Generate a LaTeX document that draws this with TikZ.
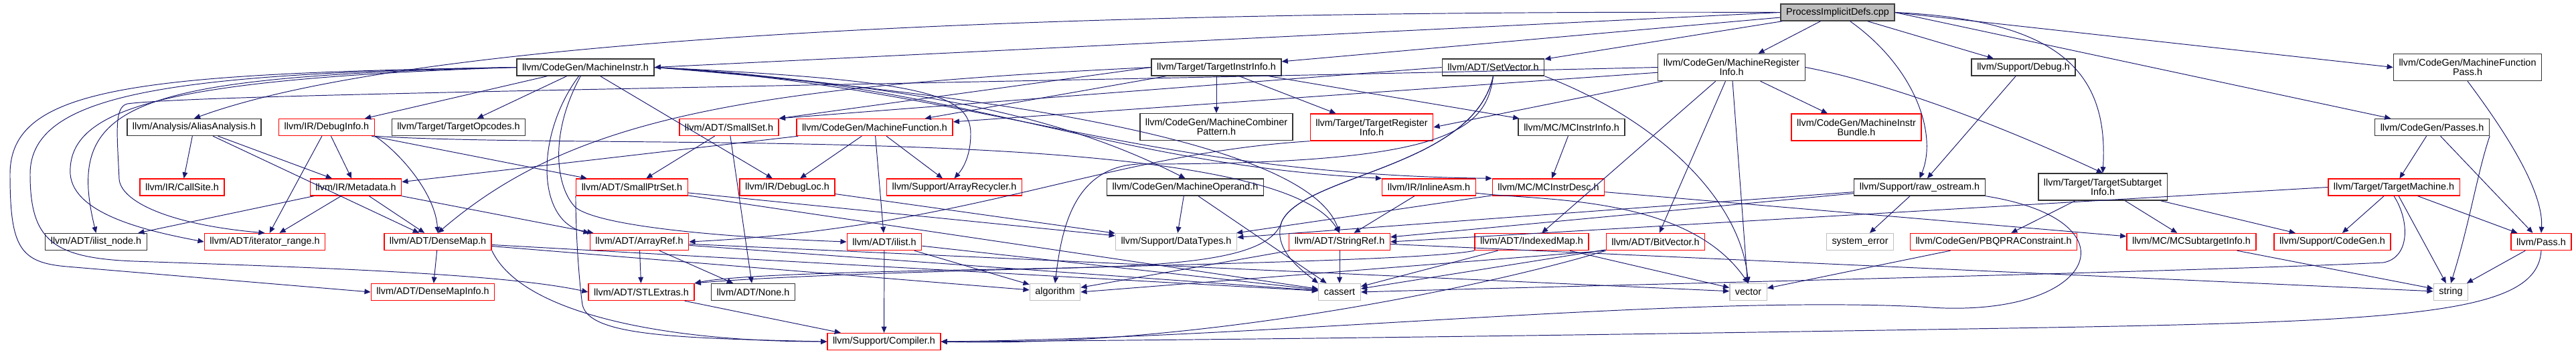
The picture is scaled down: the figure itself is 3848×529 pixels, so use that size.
\documentclass[tikz,border=0pt]{standalone}
\usepackage{fontspec}
\setmainfont{Liberation Sans}
\usepackage{tikz}
\usetikzlibrary{arrows.meta}
\definecolor{AzulFlecha}{RGB}{25,25,112}
\definecolor{RojoBorde}{RGB}{255,0,0}
\definecolor{GrisBorde}{RGB}{191,191,191}
\definecolor{GrisRelleno}{RGB}{191,191,191}

\begin{document}
\begin{tikzpicture}[x=0.02cm,y=-0.02cm,>={Triangle[length=5.2pt,width=4.4pt]},
  archivo/.style={draw=black!80,line width=0.8pt,fill=white,inner xsep=4.6pt,inner ysep=0pt,
    minimum height=0.5cm,align=center,font=\fontsize{8.2}{8}\selectfont},
  truncado/.style={archivo,draw=RojoBorde},
  sistema/.style={archivo,draw=GrisBorde},
  doble/.style={minimum height=0.8cm},
  dep/.style={->,AzulFlecha,line width=0.55pt}]
  \useasboundingbox (0,0) rectangle (3848,529);

  \node[archivo,fill=GrisRelleno,draw=black!75] (pid) at (2745,18.5) {ProcessImplicitDefs.cpp};

  \node[archivo] (mi) at (874.5,100.5) {llvm/CodeGen/MachineInstr.h};
  \node[archivo] (tii) at (1817,100.5) {llvm/Target/TargetInstrInfo.h};
  \node[archivo] (sv) at (2230.5,100.5) {llvm/ADT/SetVector.h};
  \node[archivo,doble] (mri) at (2586.5,100.5) {llvm/CodeGen/MachineRegister\\Info.h};
  \node[archivo] (dbg) at (3022.5,100.5) {llvm/Support/Debug.h};
  \node[archivo,doble] (mfp) at (3686,100.5) {llvm/CodeGen/MachineFunction\\Pass.h};

  \node[archivo] (aa) at (290,190) {llvm/Analysis/AliasAnalysis.h};
  \node[truncado] (dinfo) at (488,190) {llvm/IR/DebugInfo.h};
  \node[archivo] (topc) at (685,190) {llvm/Target/TargetOpcodes.h};
  \node[truncado] (sset) at (1089,190) {llvm/ADT/SmallSet.h};
  \node[truncado] (mf) at (1306.5,190) {llvm/CodeGen/MachineFunction.h};
  \node[archivo,doble] (mcp) at (1817,189.5) {llvm/CodeGen/MachineCombiner\\Pattern.h};
  \node[truncado,doble] (tri) at (2049,190) {llvm/Target/TargetRegister\\Info.h};
  \node[archivo] (mcii) at (2347.5,190) {llvm/MC/MCInstrInfo.h};
  \node[truncado,doble] (mib) at (2773,190) {llvm/CodeGen/MachineInstr\\Bundle.h};
  \node[archivo] (passes) at (3633,190) {llvm/CodeGen/Passes.h};

  \node[truncado] (cs) at (272,279.5) {llvm/IR/CallSite.h};
  \node[truncado] (md) at (531.5,279.5) {llvm/IR/Metadata.h};
  \node[truncado] (spset) at (944,279.5) {llvm/ADT/SmallPtrSet.h};
  \node[truncado] (dloc) at (1176,279.5) {llvm/IR/DebugLoc.h};
  \node[truncado] (arec) at (1425.5,279.5) {llvm/Support/ArrayRecycler.h};
  \node[archivo] (mop) at (1770.5,279.5) {llvm/CodeGen/MachineOperand.h};
  \node[truncado] (iasm) at (2134.5,279.5) {llvm/IR/InlineAsm.h};
  \node[truncado] (mcid) at (2313,279.5) {llvm/MC/MCInstrDesc.h};
  \node[archivo] (ro) at (2867.5,279.5) {llvm/Support/raw\_ostream.h};
  \node[archivo,doble] (tsi) at (3141,279) {llvm/Target/TargetSubtarget\\Info.h};
  \node[truncado] (tm) at (3576,279.5) {llvm/Target/TargetMachine.h};

  \node[archivo] (iln) at (143.5,361) {llvm/ADT/ilist\_node.h};
  \node[truncado] (itr) at (395.5,361) {llvm/ADT/iterator\_range.h};
  \node[truncado] (dm) at (654,361) {llvm/ADT/DenseMap.h};
  \node[truncado] (ar) at (955,361) {llvm/ADT/ArrayRef.h};
  \node[truncado] (ilst) at (1321,361) {llvm/ADT/ilist.h};
  \node[sistema] (dt) at (1757,361) {llvm/Support/DataTypes.h};
  \node[truncado] (sref) at (2001,361) {llvm/ADT/StringRef.h};
  \node[truncado] (imap) at (2288,361) {llvm/ADT/IndexedMap.h};
  \node[truncado] (bv) at (2473,361) {llvm/ADT/BitVector.h};
  \node[sistema] (serr) at (2778.5,361) {system\_error};
  \node[truncado] (pbqp) at (2978,361) {llvm/CodeGen/PBQPRAConstraint.h};
  \node[truncado] (mcsi) at (3273.5,361) {llvm/MC/MCSubtargetInfo.h};
  \node[truncado] (cgen) at (3484,361) {llvm/Support/CodeGen.h};
  \node[truncado] (pass) at (3796,361) {llvm/Pass.h};

  \node[truncado] (dmi) at (646.5,436) {llvm/ADT/DenseMapInfo.h};
  \node[truncado] (stl) at (958,436) {llvm/ADT/STLExtras.h};
  \node[archivo] (none) at (1125,436) {llvm/ADT/None.h};
  \node[sistema] (alg) at (1576,436) {algorithm};
  \node[sistema] (cas) at (2001,436) {cassert};
  \node[sistema] (vec) at (2611.5,436) {vector};
  \node[sistema] (str) at (3661,436) {string};

  \node[truncado] (comp) at (1320.5,510) {llvm/Support/Compiler.h};

  \draw[dep] (pid.west) .. controls (1700,15) and (650,45) .. (aa.north);
  \draw[dep] (pid.west) -- (mi.east);
  \draw[dep] (pid) -- (tii);
  \draw[dep] (pid) -- (sv);
  \draw[dep] (pid) -- (mri);
  \draw[dep] (pid) -- (dbg);
  \draw[dep] (pid) .. controls (2860,100) and (2895,200) .. (ro.north);
  \draw[dep] (pid.east) .. controls (3080,30) and (3150,110) .. (tsi.north);
  \draw[dep] (pid.east) -- (passes);
  \draw[dep] (pid.east) -- (mfp.west);

  \draw[dep] (mi.west) .. controls (200,115) and (95,150) .. (iln.north);
  \draw[dep] (mi.west) .. controls (250,118) and (100,160) .. (105,260) .. controls (110,320) and (220,345) .. (itr.west);
  \draw[dep] (mi.west) .. controls (200,110) and (15,130) .. (15,260) .. controls (15,370) and (30,392) .. (100,398) -- (dmi.west);
  \draw[dep] (mi.west) .. controls (250,110) and (45,140) .. (45,260) .. controls (45,360) and (80,385) .. (200,390) .. controls (500,400) and (760,410) .. (stl.west);
  \draw[dep] (mi) -- (dinfo);
  \draw[dep] (mi) -- (topc);
  \draw[dep] (mi) .. controls (800,200) and (800,330) .. (ar.north west);
  \draw[dep] (mi) .. controls (820,200) and (830,280) .. (860,310) .. controls (900,340) and (1100,355) .. (ilst.west);
  \draw[dep] (mi) -- (dloc);
  \draw[dep] (mi.east) .. controls (1380,120) and (1450,140) .. (1450,200) .. controls (1450,230) and (1440,250) .. (arec.north);
  \draw[dep] (mi.east) .. controls (1400,130) and (1600,180) .. (mop.north);
  \draw[dep] (mi.east) .. controls (1450,125) and (1650,245) .. (iasm.north west);
  \draw[dep] (mi.east) .. controls (1450,130) and (1700,260) .. (mcid.north west);
  \draw[dep] (mi.east) .. controls (1400,135) and (1950,200) .. (sref.north);

  \draw[dep] (tii.west) -- (sset.north east);
  \draw[dep] (tii) -- (mf);
  \draw[dep] (tii.west) .. controls (1100,130) and (850,180) .. (dm.north);
  \draw[dep] (tii) -- (mcp);
  \draw[dep] (tii) -- (tri);
  \draw[dep] (tii) -- (mcii);

  \draw[dep] (sv.west) -- (sset.north east);
  \draw[dep] (sv.south) .. controls (2200,250) and (1950,260) .. (1915,330) .. controls (1900,380) and (1800,395) .. (1600,400) .. controls (1300,405) and (1100,410) .. (stl.north east);
  \draw[dep] (sv.south) .. controls (2220,200) and (2150,245) .. (1700,245) .. controls (1600,250) and (1585,350) .. (alg.north);
  \draw[dep] (sv.south) .. controls (2200,250) and (1950,260) .. (1915,330) .. controls (1900,370) and (1940,400) .. (cas.north west);
  \draw[dep] (sv.south east) .. controls (2480,180) and (2600,300) .. (vec.north);

  \draw[dep] (mri) -- (mf);
  \draw[dep] (mri.west) .. controls (1200,130) and (300,140) .. (190,155) .. controls (170,160) and (175,200) .. (178,267) .. controls (180,300) and (250,335) .. (itr.north);
  \draw[dep] (mri) -- (tri.east);
  \draw[dep] (mri) -- (mib);
  \draw[dep] (mri.east) .. controls (2800,120) and (2950,170) .. (tsi.north);
  \draw[dep] (mri) -- (imap);
  \draw[dep] (mri) -- (bv);
  \draw[dep] (mri) -- (vec);

  \draw[dep] (aa) -- (cs);
  \draw[dep] (aa) -- (md);
  \draw[dep] (aa) -- (dm);

  \draw[dep] (dinfo) -- (md);
  \draw[dep] (dinfo) -- (spset);
  \draw[dep] (dinfo) -- (itr);
  \draw[dep] (dinfo.south east) .. controls (600,230) and (650,290) .. (dm.north);
  \draw[dep] (dinfo.south east) .. controls (900,225) and (1900,180) .. (sref.north);

  \draw[dep] (md) -- (iln);
  \draw[dep] (md) -- (itr);
  \draw[dep] (md) -- (dm);
  \draw[dep] (md) -- (ar);

  \draw[dep] (mf) -- (md);
  \draw[dep] (mf) -- (dloc);
  \draw[dep] (mf) -- (arec);
  \draw[dep] (mf) -- (ilst);

  \draw[dep] (sset) -- (spset);
  \draw[dep] (sset) -- (none);

  \draw[dep] (spset) -- (dt);
  \draw[dep] (spset) -- (cas);
  \draw[dep] (spset.south west) .. controls (860,350) and (865,420) .. (870,455) .. controls (880,500) and (1000,505) .. (comp.west);

  \draw[dep] (tri.south west) .. controls (1650,230) and (1450,340) .. (ar.east);
  \draw[dep] (mcii) -- (mcid);
  \draw[dep] (dloc) -- (dt);
  \draw[dep] (mop) -- (dt);
  \draw[dep] (mop) -- (cas);
  \draw[dep] (iasm) -- (sref);
  \draw[dep] (iasm) .. controls (2300,300) and (2520,290) .. (vec.north);
  \draw[dep] (mcid) -- (dt);
  \draw[dep] (mcid) -- (mcsi);

  \draw[dep] (dbg) -- (ro);
  \draw[dep] (ro) -- (serr);
  \draw[dep] (ro) -- (dt);
  \draw[dep] (ro) -- (sref);
  \draw[dep] (ro.south east) .. controls (3200,330) and (3130,480) .. (2870,458) .. controls (2500,440) and (1900,505) .. (comp.east);

  \draw[dep] (tsi) -- (pbqp);
  \draw[dep] (tsi) -- (mcsi);
  \draw[dep] (tsi) -- (cgen);

  \draw[dep] (passes) -- (tm);
  \draw[dep] (passes) -- (pass);
  \draw[dep] (passes.south east) .. controls (3700,260) and (3690,330) .. (str.north);
  \draw[dep] (mfp.south) .. controls (3730,180) and (3800,280) .. (pass.north);

  \draw[dep] (tm) -- (cgen);
  \draw[dep] (tm) -- (pass);
  \draw[dep] (tm) -- (str);
  \draw[dep] (tm.west) -- (sref.east);
  \draw[dep] (tm.south) .. controls (3600,330) and (3600,385) .. (3560,392) .. controls (3300,405) and (2300,428) .. (cas.east);

  \draw[dep] (dm) -- (dmi);
  \draw[dep] (dm) -- (alg);
  \draw[dep] (dm) -- (cas);
  \draw[dep] (dm.south east) .. controls (780,470) and (1000,510) .. (comp.west);

  \draw[dep] (ar) -- (stl);
  \draw[dep] (ar) -- (none);
  \draw[dep] (ar) -- (cas);
  \draw[dep] (ar) -- (vec);

  \draw[dep] (ilst) -- (comp);
  \draw[dep] (ilst) -- (alg);
  \draw[dep] (ilst) -- (cas);

  \draw[dep] (sref) -- (cas);
  \draw[dep] (sref) -- (alg);
  \draw[dep] (sref) -- (str);

  \draw[dep] (imap) -- (cas);
  \draw[dep] (imap) -- (vec);
  \draw[dep] (imap.south west) .. controls (2100,395) and (1300,400) .. (stl.north east);

  \draw[dep] (bv) -- (cas);
  \draw[dep] (bv.south west) -- (alg.east);
  \draw[dep] (bv.south west) .. controls (2250,420) and (1800,520) .. (comp.east);

  \draw[dep] (pbqp) -- (vec);
  \draw[dep] (mcsi) -- (str);
  \draw[dep] (pass) -- (str);
  \draw[dep] (pass.south) .. controls (3790,470) and (3600,480) .. (3000,490) .. controls (2400,500) and (1800,508) .. (comp.east);
  \draw[dep] (stl) -- (comp);
\end{tikzpicture}
\end{document}
